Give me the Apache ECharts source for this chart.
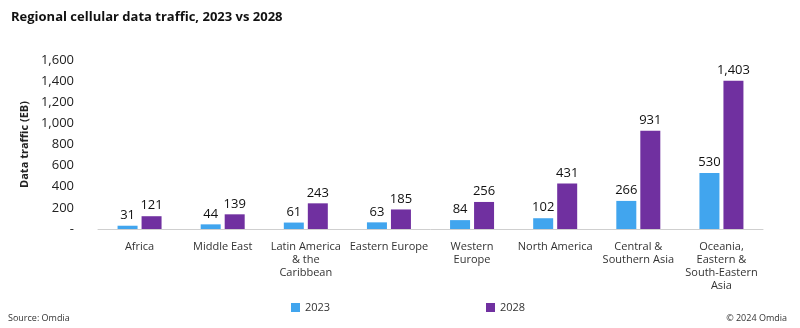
<!DOCTYPE html>
<html>
<head>
<meta charset="utf-8">
<script src="https://cdn.jsdelivr.net/npm/echarts@6/dist/echarts.min.js"></script>
<style>
  html, body { margin: 0; padding: 0; background: #fff; }
  #chart { width: 800px; height: 328px; }
</style>
</head>
<body>
<div id="chart"></div>
<script>
// chart data
const regions = [
  'Africa', 'Middle East', 'Latin America\n& the\nCaribbean', 'Eastern Europe',
  'Western\nEurope', 'North America', 'Central &\nSouthern Asia',
  'Oceania,\nEastern &\nSouth-Eastern\nAsia'
]
const traffic2023 = [31, 44, 61, 63, 84, 102, 266, 530]
const traffic2028 = [121, 139, 243, 185, 256, 431, 931, 1403]
const yTicks = [0, 200, 400, 600, 800, 1000, 1200, 1400, 1600]

const font = '"Open Sans", "Noto Sans", sans-serif'
const fmt = v => v === 0 ? '-' : v.toLocaleString('en-US')

const chart = echarts.init(document.getElementById('chart'))

chart.setOption({
  animation: false,
  textStyle: { fontFamily: font },
  title: [
    {
      text: 'Regional cellular data traffic, 2023 vs 2028',
      left: 6, top: 6,
      textStyle: { fontSize: 13, fontWeight: 'bold', color: '#111', fontFamily: font }
    },
    {
      text: 'Source: Omdia',
      left: 3, top: 309,
      textStyle: { fontSize: 9, fontWeight: 'normal', color: '#333', fontFamily: font }
    },
    {
      text: '© 2024 Omdia',
      right: 8, top: 309,
      textStyle: { fontSize: 9, fontWeight: 'normal', color: '#333', fontFamily: font }
    }
  ],
  legend: [
    {
      data: ['2023'], left: 286, top: 297,
      itemWidth: 9, itemHeight: 9, icon: 'rect', itemGap: 4,
      textStyle: { fontSize: 11, color: '#333' }
    },
    {
      data: ['2028'], left: 481, top: 297,
      itemWidth: 9, itemHeight: 9, icon: 'rect', itemGap: 4,
      textStyle: { fontSize: 11, color: '#333' }
    }
  ],
  grid: { left: 98, right: 37, top: 60, height: 169 },
  xAxis: {
    type: 'category',
    data: regions,
    axisLine: { lineStyle: { color: '#cfcfcf' } },
    axisTick: { show: false },
    axisLabel: { interval: 0, fontSize: 11, color: '#333', lineHeight: 13, margin: 11 }
  },
  yAxis: {
    type: 'value',
    min: 0, max: 1600, interval: 200,
    name: 'Data traffic (EB)',
    nameLocation: 'middle',
    nameGap: 67,
    nameTextStyle: { fontSize: 11, fontWeight: 'bold', color: '#222' },
    axisLine: { show: false },
    axisTick: { show: false },
    splitLine: { show: false },
    axisLabel: {
      fontSize: 13, color: '#222', margin: 24,
      formatter: v => yTicks.includes(v) ? fmt(v) : ''
    }
  },
  series: [
    {
      name: '2023', type: 'bar', data: traffic2023,
      barWidth: 20, barGap: '20%',
      itemStyle: { color: '#41a5ee' },
      label: { show: true, position: 'top', fontSize: 13, color: '#111', distance: 4, formatter: p => fmt(p.value) }
    },
    {
      name: '2028', type: 'bar', data: traffic2028,
      barWidth: 20,
      itemStyle: { color: '#7030a0' },
      label: { show: true, position: 'top', fontSize: 13, color: '#111', distance: 4, formatter: p => fmt(p.value) }
    }
  ]
})
</script>
</body>
</html>
